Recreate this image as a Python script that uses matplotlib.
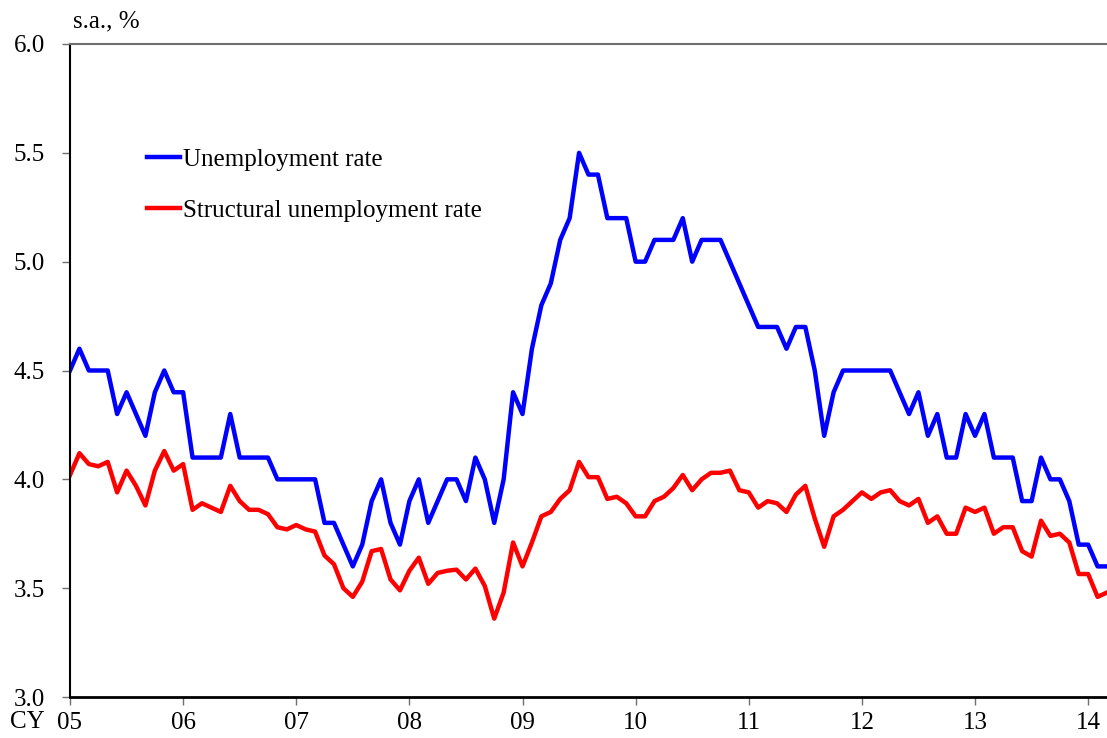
import matplotlib
matplotlib.use("Agg")
import matplotlib.pyplot as plt

# Monthly data, Jan 2005 - Mar 2014 (s.a., %)
unemployment = [
    4.5, 4.6, 4.5, 4.5, 4.5, 4.3, 4.4, 4.3, 4.2, 4.4, 4.5, 4.4,   # 2005
    4.4, 4.1, 4.1, 4.1, 4.1, 4.3, 4.1, 4.1, 4.1, 4.1, 4.0, 4.0,   # 2006
    4.0, 4.0, 4.0, 3.8, 3.8, 3.7, 3.6, 3.7, 3.9, 4.0, 3.8, 3.7,   # 2007
    3.9, 4.0, 3.8, 3.9, 4.0, 4.0, 3.9, 4.1, 4.0, 3.8, 4.0, 4.4,   # 2008
    4.3, 4.6, 4.8, 4.9, 5.1, 5.2, 5.5, 5.4, 5.4, 5.2, 5.2, 5.2,   # 2009
    5.0, 5.0, 5.1, 5.1, 5.1, 5.2, 5.0, 5.1, 5.1, 5.1, 5.0, 4.9,   # 2010
    4.8, 4.7, 4.7, 4.7, 4.6, 4.7, 4.7, 4.5, 4.2, 4.4, 4.5, 4.5,   # 2011
    4.5, 4.5, 4.5, 4.5, 4.4, 4.3, 4.4, 4.2, 4.3, 4.1, 4.1, 4.3,   # 2012
    4.2, 4.3, 4.1, 4.1, 4.1, 3.9, 3.9, 4.1, 4.0, 4.0, 3.9, 3.7,   # 2013
    3.7, 3.6, 3.6,                                                # 2014
]
structural = [
    4.02, 4.12, 4.07, 4.06, 4.08, 3.94, 4.04, 3.97, 3.88, 4.04, 4.13, 4.04,
    4.07, 3.86, 3.89, 3.87, 3.85, 3.97, 3.90, 3.86, 3.86, 3.84, 3.78, 3.77,
    3.79, 3.77, 3.76, 3.65, 3.61, 3.50, 3.46, 3.53, 3.67, 3.68, 3.54, 3.49,
    3.58, 3.64, 3.52, 3.57, 3.58, 3.585, 3.54, 3.59, 3.51, 3.36, 3.48, 3.71,
    3.60, 3.71, 3.83, 3.85, 3.91, 3.95, 4.08, 4.01, 4.01, 3.91, 3.92, 3.89,
    3.83, 3.83, 3.90, 3.92, 3.96, 4.02, 3.95, 4.00, 4.03, 4.03, 4.04, 3.95,
    3.94, 3.87, 3.90, 3.89, 3.85, 3.93, 3.97, 3.82, 3.69, 3.83, 3.86, 3.90,
    3.94, 3.91, 3.94, 3.95, 3.90, 3.88, 3.91, 3.80, 3.83, 3.75, 3.75, 3.87,
    3.85, 3.87, 3.75, 3.78, 3.78, 3.67, 3.645, 3.81, 3.74, 3.75, 3.71, 3.565,
    3.565, 3.46, 3.48,
]
year_labels = ["05", "06", "07", "08", "09", "10", "11", "12", "13", "14"]
y_ticks = [3.0, 3.5, 4.0, 4.5, 5.0, 5.5, 6.0]

plt.rcParams["font.family"] = ["Liberation Serif", "DejaVu Serif"]
FS = 18

fig = plt.figure(figsize=(11.07, 7.38), dpi=100)
ax = fig.add_axes([70 / 1107, 41 / 738, 1 - 70 / 1107, 653 / 738])

months = range(len(unemployment))
ax.plot(months, unemployment, color="#0000ff", lw=3.2, label="Unemployment rate",
        solid_joinstyle="round")
ax.plot(months, structural, color="#ff0000", lw=3.2, label="Structural unemployment rate",
        solid_joinstyle="round")

ax.set_xlim(0, len(unemployment) - 1)
ax.set_ylim(3.0, 6.0)
ax.set_xticks(range(0, 12 * len(year_labels), 12))
ax.set_xticklabels(year_labels)
ax.set_yticks(y_ticks)
ax.set_yticklabels([f"{v:.1f}" for v in y_ticks])
ax.tick_params(axis="both", direction="out", length=6, width=1, color="#707070",
               labelsize=FS, labelcolor="black")
ax.tick_params(axis="x", pad=5)
ax.tick_params(axis="y", pad=12)

ax.spines["right"].set_visible(False)
ax.spines["top"].set_color("#707070")
ax.spines["top"].set_linewidth(1.5)
ax.spines["left"].set_color("black")
ax.spines["left"].set_linewidth(1.5)
ax.spines["bottom"].set_color("black")
ax.spines["bottom"].set_linewidth(2)

fig.text(10 / 1107, 1 - 722 / 738, "CY", fontsize=FS, va="center", ha="left")
fig.text(73 / 1107, 1 - 21 / 738, "s.a., %", fontsize=FS, va="center", ha="left")

ax.legend(loc="upper left", bbox_to_anchor=(0.074, 0.84), frameon=False,
          fontsize=FS, handlelength=1.32, handletextpad=0.12, labelspacing=1.13,
          borderaxespad=0, borderpad=0)

fig.savefig("out.png", dpi=100)
